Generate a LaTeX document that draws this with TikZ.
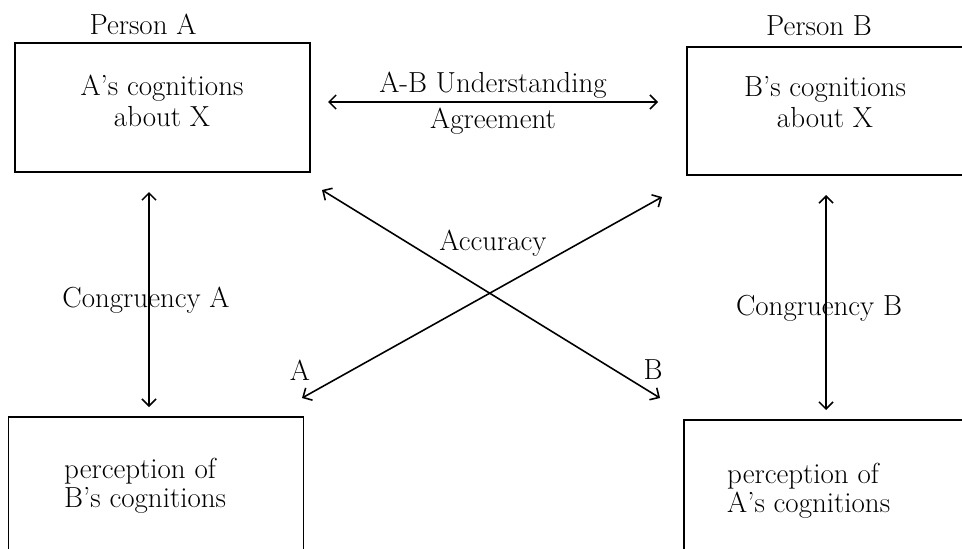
\documentclass[tikz,border=0pt]{standalone}
\usetikzlibrary{arrows.meta}

\tikzset{
	box/.style={draw, line width=1.1pt, rectangle, inner sep=0pt},
	txt/.style={font=\fontsize{16.5}{17.5}\selectfont, align=center},
	perc/.style={font=\fontsize{16.5}{16.5}\selectfont, align=left, anchor=west},
	link/.style={<->, line width=0.9pt},
}

\begin{document}
\begin{tikzpicture}[>={Straight Barb[length=4pt, width=8pt]}, x=0.02cm, y=-0.02cm]
	\useasboundingbox (0, 0) rectangle (962, 548);
	\clip (0, 0) rectangle (962, 548);

	% the four boxes
	\node[box, minimum width=5.9cm, minimum height=2.58cm] (acog) at (162.5, 107.5) {};
	\node[box, minimum width=5.9cm, minimum height=2.56cm] (bcog) at (834.5, 111) {};
	\node[box, minimum width=5.9cm, minimum height=2.86cm] (aperc) at (156, 488.5) {};
	\node[box, minimum width=5.9cm, minimum height=2.86cm] (bperc) at (831, 491.5) {};

	\node[txt] (acogT) at (162, 101) {A's cognitions\\about X};
	\node[txt] (bcogT) at (825, 102) {B's cognitions\\about X};
	\node[perc] (apercT) at (58, 486) {perception of\\B's cognitions};
	\node[perc] (bpercT) at (721, 491) {perception of\\A's cognitions};

	\node[txt] (pa) at (143, 24) {Person A};
	\node[txt] (pb) at (819, 26) {Person B};

	% arrow ends
	\coordinate (h1) at (328, 102);
	\coordinate (h2) at (658, 102);
	\coordinate (va1) at (149, 192);
	\coordinate (va2) at (149, 407);
	\coordinate (vb1) at (826, 195);
	\coordinate (vb2) at (826, 410);
	\coordinate (x1) at (322, 190);
	\coordinate (x2) at (660, 398);
	\coordinate (x3) at (302, 398);
	\coordinate (x4) at (662, 197);

	\draw[link] (h1) -- (h2);
	\draw[link] (va1) -- (va2);
	\draw[link] (vb1) -- (vb2);
	\draw[link] (x1) -- (x2);
	\draw[link] (x3) -- (x4);

	\node[txt] (und) at (493, 85) {A-B Understanding};
	\node[txt] (agr) at (493, 121) {Agreement};
	\node[txt] (acc) at (493, 243) {Accuracy};
	\node[txt] (conga) at (146, 300) {Congruency A};
	\node[txt] (congb) at (819, 308) {Congruency B};
	\node[txt] (la) at (300, 370) {A};
	\node[txt] (lb) at (653, 370) {B};
\end{tikzpicture}
\end{document}
